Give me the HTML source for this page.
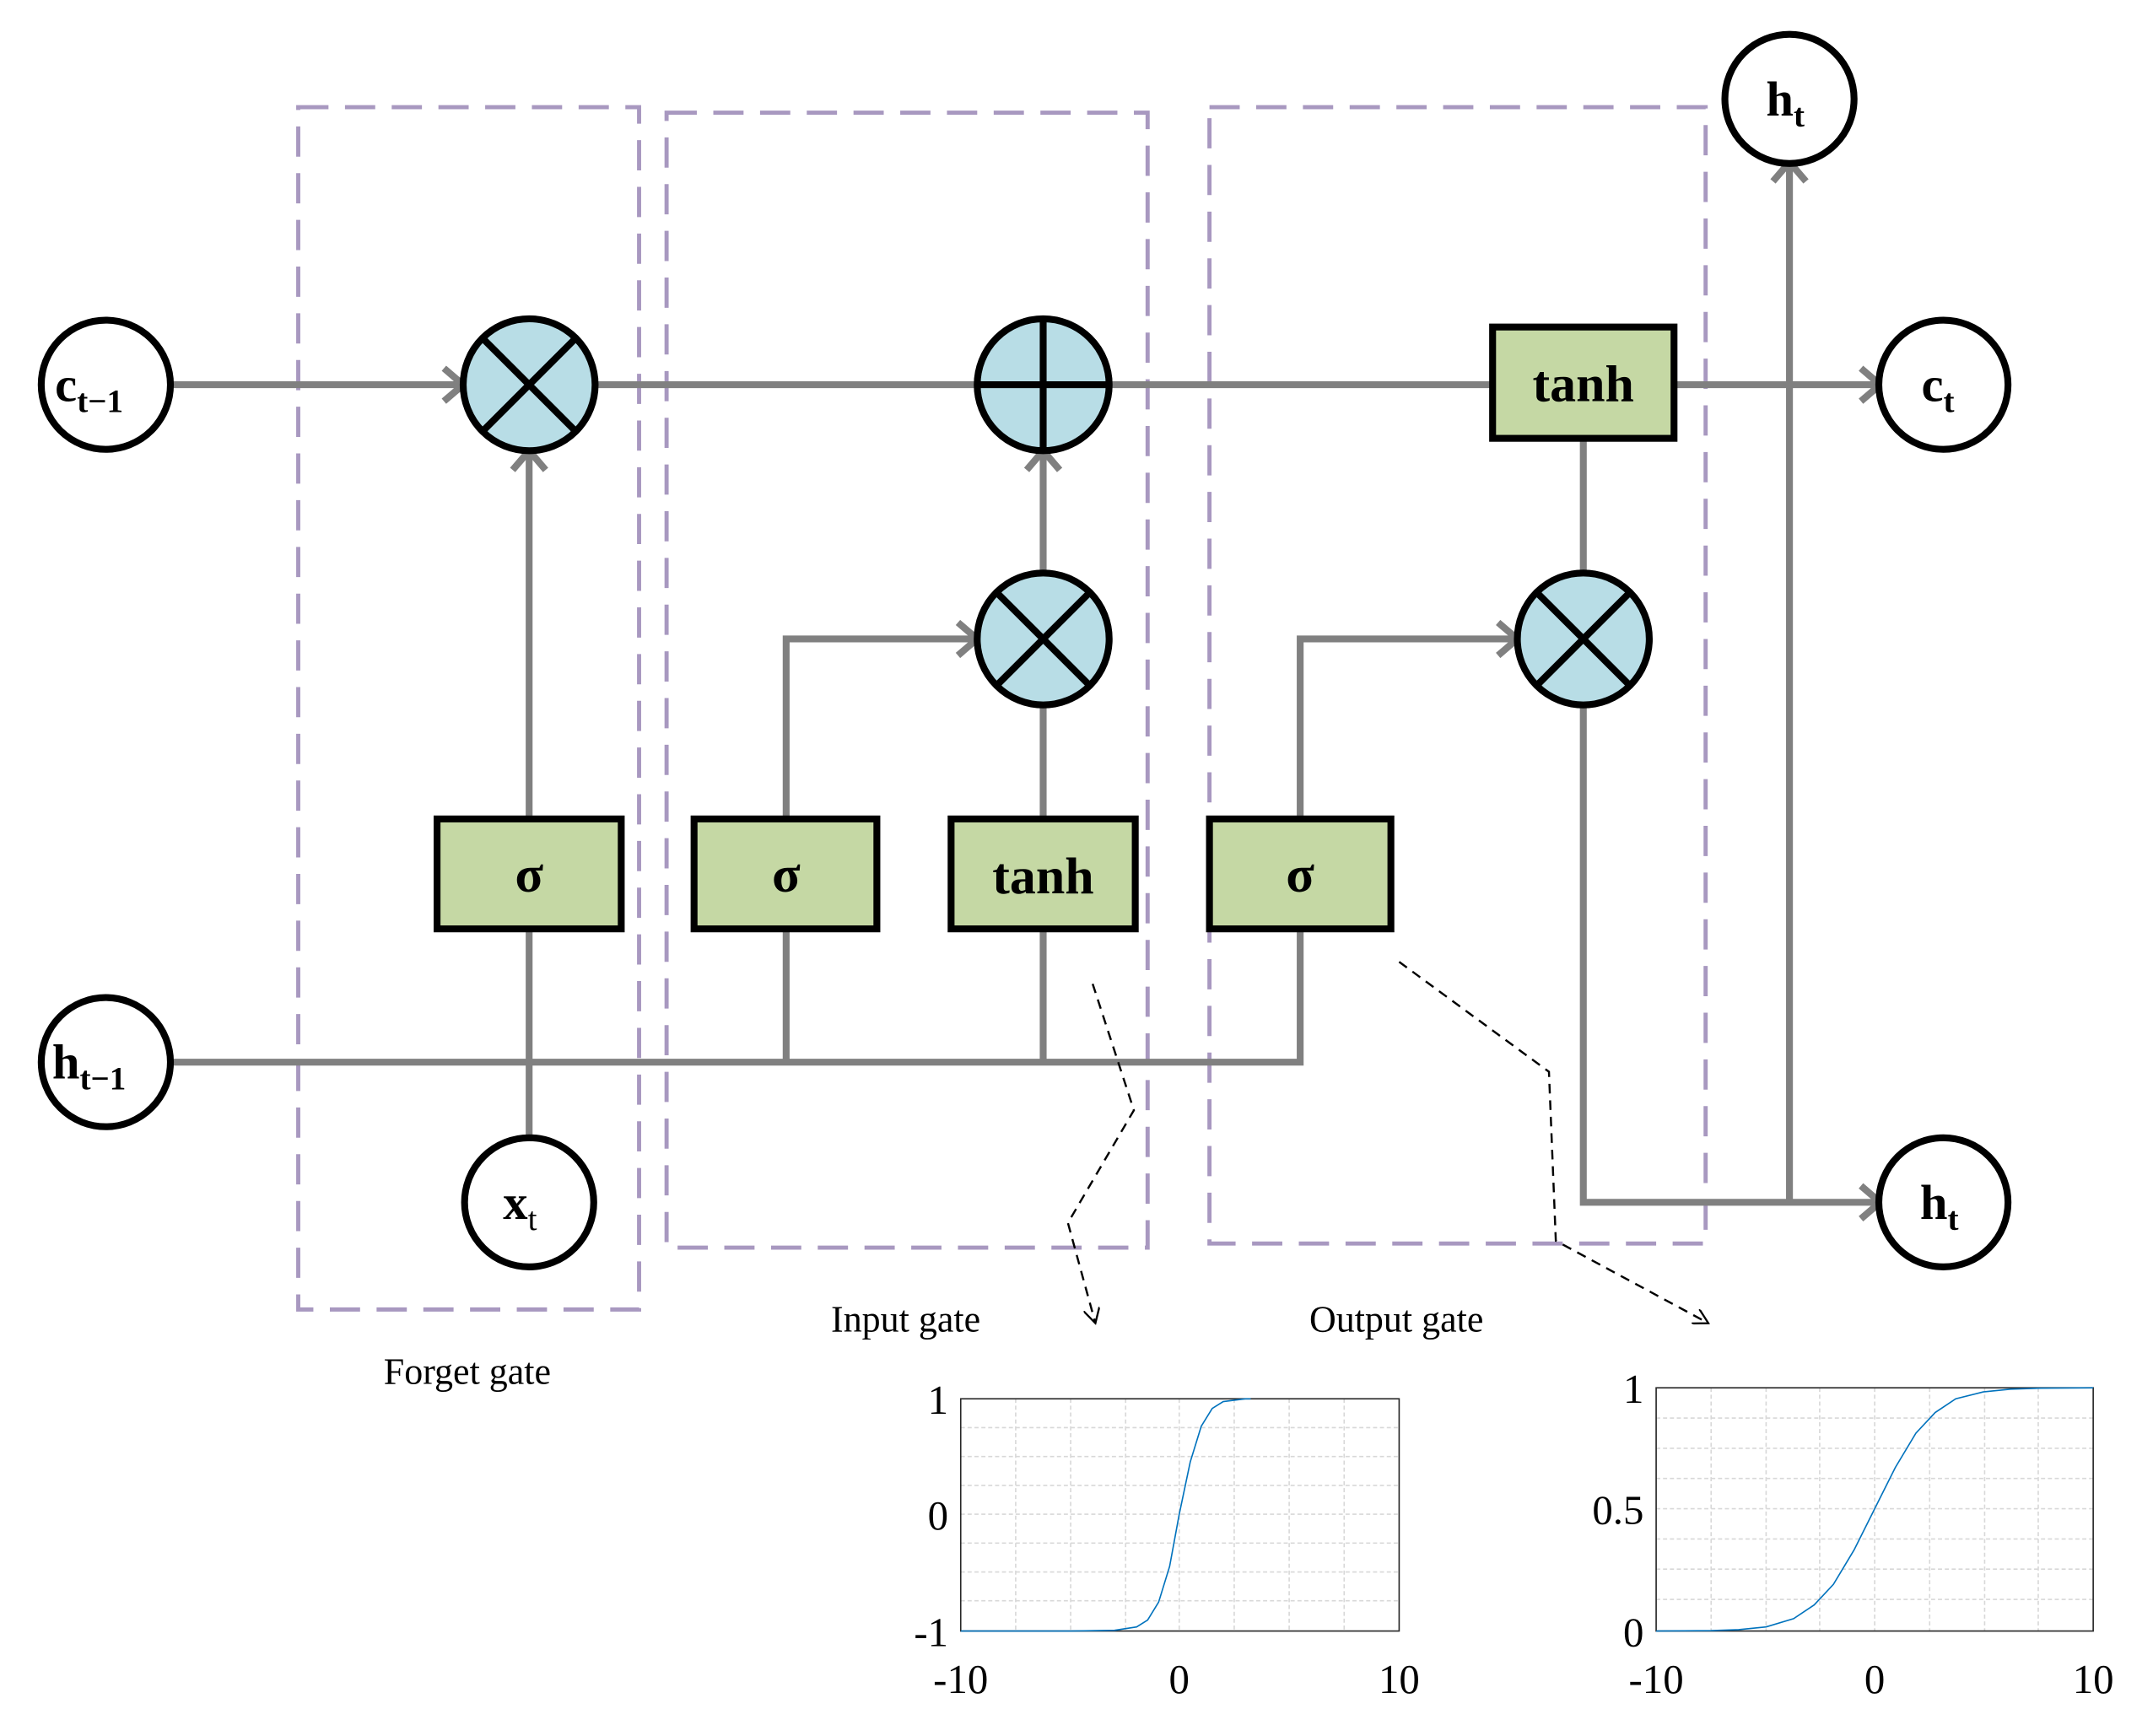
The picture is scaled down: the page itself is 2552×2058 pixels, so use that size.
<!DOCTYPE html>
<html><head><meta charset="utf-8"><style>
html,body{margin:0;padding:0;background:#fff;}
svg{display:block;}
text{font-family:"Liberation Serif",serif;}
</style></head><body>
<svg width="2552" height="2058" viewBox="0 0 1566.5 1263.4" preserveAspectRatio="none" xmlns="http://www.w3.org/2000/svg">
<defs>
<marker id="ka" viewBox="0 0 10 10" refX="9" refY="5" markerWidth="12" markerHeight="12" orient="auto" markerUnits="userSpaceOnUse">
<path d="M0,0 L9,5 L0,10" fill="none" stroke="#000" stroke-width="1.2"/>
</marker>
</defs>
<g fill="none" stroke="#a898c0" stroke-width="3" stroke-dasharray="22,12">
<rect x="217" y="78" width="248" height="875"/>
<rect x="485" y="82" width="350" height="826"/>
<rect x="880" y="78" width="361" height="827"/>
</g>
<g fill="none" stroke="#808080" stroke-width="5">
<line x1="124" y1="280" x2="337" y2="280"/>
<line x1="433" y1="280" x2="711" y2="280"/>
<line x1="807" y1="280" x2="1086" y2="280"/>
<line x1="1218" y1="280" x2="1366" y2="280"/>
<line x1="1302" y1="875" x2="1302" y2="120"/>
<polyline points="124,773 946,773 946,676"/>
<line x1="572" y1="773" x2="572" y2="676"/>
<line x1="759" y1="773" x2="759" y2="676"/>
<line x1="385" y1="828" x2="385" y2="676"/>
<line x1="385" y1="596" x2="385" y2="330"/>
<polyline points="572,596 572,465 709,465"/>
<line x1="759" y1="596" x2="759" y2="513"/>
<line x1="759" y1="417" x2="759" y2="330"/>
<polyline points="946,596 946,465 1102,465"/>
<line x1="1152" y1="319" x2="1152" y2="417"/>
<polyline points="1152,513 1152,875 1366,875"/>
</g>
<g fill="none" stroke="#808080" stroke-width="5">
<polyline points="323,268 337,280 323,292"/>
<polyline points="373,342 385,328 397,342"/>
<polyline points="697,453 711,465 697,477"/>
<polyline points="747,342 759,328 771,342"/>
<polyline points="1090,453 1104,465 1090,477"/>
<polyline points="1354,268 1368,280 1354,292"/>
<polyline points="1354,863 1368,875 1354,887"/>
<polyline points="1290,132 1302,118 1314,132"/>
</g>
<g stroke="#000" stroke-width="5" fill="#b8dde6">
<circle cx="385" cy="280" r="48"/>
<circle cx="759" cy="280" r="48"/>
<circle cx="759" cy="465" r="48"/>
<circle cx="1152" cy="465" r="48"/>
</g>
<g stroke="#000" stroke-width="5">
<path d="M351,246 L419,314 M419,246 L351,314"/>
<path d="M725,431 L793,499 M793,431 L725,499"/>
<path d="M1118,431 L1186,499 M1186,431 L1118,499"/>
<path d="M711,280 L807,280 M759,232 L759,328"/>
</g>
<g stroke="#000" stroke-width="5" fill="#c5d8a4">
<rect x="318" y="596" width="134" height="80"/>
<rect x="505" y="596" width="133" height="80"/>
<rect x="692" y="596" width="134" height="80"/>
<rect x="880" y="596" width="132" height="80"/>
<rect x="1086" y="238" width="132" height="81"/>
</g>
<g font-weight="bold" font-size="38" text-anchor="middle">
<text x="385" y="649">σ</text>
<text x="572" y="649">σ</text>
<text x="759" y="650">tanh</text>
<text x="946" y="649">σ</text>
<text x="1152" y="292">tanh</text>
</g>
<g stroke="#000" stroke-width="5" fill="#fff">
<circle cx="77" cy="280" r="47"/>
<circle cx="77" cy="773" r="47"/>
<circle cx="385" cy="875" r="47"/>
<circle cx="1302" cy="72" r="47"/>
<circle cx="1414" cy="280" r="47"/>
<circle cx="1414" cy="875" r="47"/>
</g>
<g font-weight="bold" font-size="36">
<text x="40" y="292">c<tspan font-size="24" dy="8">t−1</tspan></text>
<text x="38" y="785">h<tspan font-size="24" dy="8">t−1</tspan></text>
<text x="366" y="887">x<tspan font-size="24" dy="8" font-weight="normal">t</tspan></text>
<text x="1285" y="84">h<tspan font-size="24" dy="8">t</tspan></text>
<text x="1398" y="292">c<tspan font-size="24" dy="8">t</tspan></text>
<text x="1397" y="887">h<tspan font-size="24" dy="8">t</tspan></text>
</g>
<g font-size="27" text-anchor="middle">
<text x="340" y="1007">Forget gate</text>
<text x="659" y="969">Input gate</text>
<text x="1016" y="969">Output gate</text>
</g>
<g fill="none" stroke="#000" stroke-width="1.5" stroke-dasharray="7,5">
<polyline points="795,716 825,808 777,890 797,963" marker-end="url(#ka)"/>
<polyline points="1018,700 1127,780 1132,903 1243,963" marker-end="url(#ka)"/>
</g>
<g>
<g stroke="#d8d8d8" stroke-width="1" stroke-dasharray="3,2">
<line x1="739" y1="1018" x2="739" y2="1187"/><line x1="779" y1="1018" x2="779" y2="1187"/>
<line x1="819" y1="1018" x2="819" y2="1187"/><line x1="858" y1="1018" x2="858" y2="1187"/>
<line x1="898" y1="1018" x2="898" y2="1187"/><line x1="938" y1="1018" x2="938" y2="1187"/>
<line x1="978" y1="1018" x2="978" y2="1187"/>
<line x1="699" y1="1039" x2="1018" y2="1039"/><line x1="699" y1="1060" x2="1018" y2="1060"/>
<line x1="699" y1="1081" x2="1018" y2="1081"/><line x1="699" y1="1102" x2="1018" y2="1102"/>
<line x1="699" y1="1123" x2="1018" y2="1123"/><line x1="699" y1="1144" x2="1018" y2="1144"/>
<line x1="699" y1="1165" x2="1018" y2="1165"/>
</g>
<rect x="699" y="1018" width="319" height="169" fill="none" stroke="#262626" stroke-width="1"/>
<path d="M699,1187 L779,1187 L811,1186.5 L827,1184 L835,1179 L843,1166 L851,1140 L858,1102 L866,1064 L874,1038 L882,1025 L890,1020 L906,1018 L910,1018" fill="none" stroke="#0072bd" stroke-width="1"/>
<g font-size="30" text-anchor="end">
<text x="690" y="1029">1</text><text x="690" y="1113">0</text><text x="690" y="1198">-1</text>
</g>
<g font-size="30" text-anchor="middle">
<text x="699" y="1232">-10</text><text x="858" y="1232">0</text><text x="1018" y="1232">10</text>
</g>
</g>
<g>
<g stroke="#d8d8d8" stroke-width="1" stroke-dasharray="3,2">
<line x1="1245" y1="1010" x2="1245" y2="1187"/><line x1="1285" y1="1010" x2="1285" y2="1187"/>
<line x1="1324" y1="1010" x2="1324" y2="1187"/><line x1="1364" y1="1010" x2="1364" y2="1187"/>
<line x1="1404" y1="1010" x2="1404" y2="1187"/><line x1="1444" y1="1010" x2="1444" y2="1187"/>
<line x1="1483" y1="1010" x2="1483" y2="1187"/>
<line x1="1205" y1="1032" x2="1523" y2="1032"/><line x1="1205" y1="1054" x2="1523" y2="1054"/>
<line x1="1205" y1="1076" x2="1523" y2="1076"/><line x1="1205" y1="1098" x2="1523" y2="1098"/>
<line x1="1205" y1="1120" x2="1523" y2="1120"/><line x1="1205" y1="1142" x2="1523" y2="1142"/>
<line x1="1205" y1="1164" x2="1523" y2="1164"/>
</g>
<rect x="1205" y="1010" width="318" height="177" fill="none" stroke="#262626" stroke-width="1"/>
<path d="M1205,1187 L1245,1186.7 L1265,1186 L1285,1184 L1305,1178 L1320,1168 L1334,1153 L1349,1128 L1364,1098 L1379,1068 L1394,1043 L1408,1028 L1423,1018 L1443,1013 L1463,1011 L1483,1010.3 L1523,1010" fill="none" stroke="#0072bd" stroke-width="1"/>
<g font-size="30" text-anchor="end">
<text x="1196" y="1021">1</text><text x="1196" y="1109">0.5</text><text x="1196" y="1198">0</text>
</g>
<g font-size="30" text-anchor="middle">
<text x="1205" y="1232">-10</text><text x="1364" y="1232">0</text><text x="1523" y="1232">10</text>
</g>
</g>
</svg>
</body></html>
